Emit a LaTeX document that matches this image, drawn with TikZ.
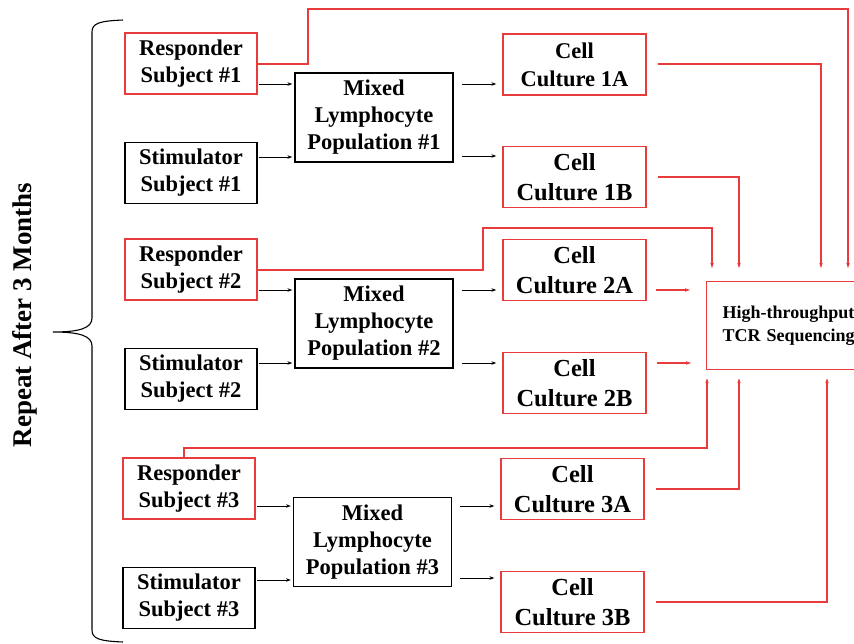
\documentclass[tikz,border=0pt]{standalone}
\usepackage{fontspec}
\setmainfont{Liberation Serif}
\usetikzlibrary{arrows.meta,calc}
\definecolor{lred}{RGB}{232,60,60}
\begin{document}
\begin{tikzpicture}[x=1pt,y=-1pt,
 box/.style={draw=black,line width=1.3pt, align=center, inner sep=0pt, font=\bfseries\fontsize{22.5}{27}\selectfont},
 rbox/.style={box, draw=lred},
 subj/.style={minimum width=132pt, minimum height=61pt},
 mix/.style={box, minimum width=158pt, minimum height=89pt},
 cult/.style={rbox, minimum width=143pt, minimum height=61pt, font=\bfseries\fontsize{24.5}{30}\selectfont},
 arr/.style={line width=0.9pt, -{Stealth[length=5pt,width=3.5pt]}},
 rarr/.style={draw=lred, line width=1.3pt, -{Stealth[length=5pt,width=3.5pt]}},
 sa/.style={shorten <=1pt, shorten >=2pt},
 sb/.style={shorten <=8pt, shorten >=6pt}]
\useasboundingbox (0,0) rectangle (854,643);
\clip (0,0) rectangle (854,643);

% brace and label
\draw[line width=1.1pt] (123,20) .. controls (100,21) and (92,23) .. (92,32) -- (92,318)
  .. controls (92,328) and (80,332) .. (53,332)
  .. controls (80,332) and (92,336) .. (92,346) -- (92,630)
  .. controls (92,639) and (100,641) .. (123,642);
\node[rotate=90, font=\bfseries\fontsize{27}{32}\selectfont] (rep) at (25,315) {Repeat After 3 Months};

% group 1
\node[rbox, subj] (r1) at (191,63.5) {Responder\\Subject \#1};
\node[box, subj] (s1) at (191,173) {Stimulator\\Subject \#1};
\node[mix] (m1) at (374,117.5) {Mixed\\Lymphocyte\\Population \#1};
\node[cult, font=\bfseries\fontsize{22.5}{28}\selectfont] (c1a) at (574.5,64.5) {Cell\\Culture 1A};
\node[cult] (c1b) at (574.5,177) {Cell\\Culture 1B};

% group 2
\node[rbox, subj] (r2) at (191,269.5) {Responder\\Subject \#2};
\node[box, subj] (s2) at (191,379) {Stimulator\\Subject \#2};
\node[mix] (m2) at (374,323.5) {Mixed\\Lymphocyte\\Population \#2};
\node[cult] (c2a) at (574.5,270) {Cell\\Culture 2A};
\node[cult] (c2b) at (574.5,383) {Cell\\Culture 2B};

% group 3
\node[rbox, subj] (r3) at (189,488.5) {Responder\\Subject \#3};
\node[box, subj] (s3) at (189,598) {Stimulator\\Subject \#3};
\node[mix] (m3) at (372.5,542) {Mixed\\Lymphocyte\\Population \#3};
\node[cult] (c3a) at (572.5,489) {Cell\\Culture 3A};
\node[cult] (c3b) at (572.5,602) {Cell\\Culture 3B};

% sequencing
\node[rbox, anchor=north west, minimum height=88pt, text width=150pt, align=left,
      inner xsep=16pt, font=\bfseries\fontsize{18}{23}\selectfont] (hts) at (706,281)
      {High-throughput\\TCR Sequencing};

% black arrows
\draw[arr, sa] (r1.east |- 0,84) -- (m1.west |- 0,84);
\draw[arr, sa] (s1.east |- 0,157) -- (m1.west |- 0,157);
\draw[arr, sb] (m1.east |- 0,84) -- (c1a.west |- 0,84);
\draw[arr, sb] (m1.east |- 0,156) -- (c1b.west |- 0,156);
\draw[arr, sa] (r2.east |- 0,290) -- (m2.west |- 0,290);
\draw[arr, sa] (s2.east |- 0,363) -- (m2.west |- 0,363);
\draw[arr, sb] (m2.east |- 0,290) -- (c2a.west |- 0,290);
\draw[arr, sb] (m2.east |- 0,363) -- (c2b.west |- 0,363);
\draw[arr, sa] (r3.east |- 0,506) -- (m3.west |- 0,506);
\draw[arr, sa] (s3.east |- 0,580) -- (m3.west |- 0,580);
\draw[arr, sb] (m3.east |- 0,506) -- (c3a.west |- 0,506);
\draw[arr, sb] (m3.east |- 0,578) -- (c3b.west |- 0,578);

% red connectors
\draw[rarr, shorten >=13pt] (r1.east |- 0,64) -| (308,9) -| (hts.north -| 848,0);
\draw[rarr, shorten <=11pt, shorten >=13pt] (c1a.east |- 0,64) -| (hts.north -| 821,0);
\draw[rarr, shorten <=11pt, shorten >=13pt] (c1b.east |- 0,177) -| (hts.north -| 739,0);
\draw[rarr, shorten >=13pt] (r2.east |- 0,270) -| (483,228) -| (hts.north -| 712,0);
\draw[rarr, shorten <=9pt, shorten >=16pt] (c2a.east |- 0,290) -- (hts.west |- 0,290);
\draw[rarr, shorten <=10pt, shorten >=15pt] (c2b.east |- 0,363) -- (hts.west |- 0,363);
\draw[rarr, shorten >=8pt] (r3.north -| 184,0) -- (184,448) -| (hts.south -| 707,0);
\draw[rarr, shorten <=11pt, shorten >=8pt] (c3a.east |- 0,489) -| (hts.south -| 739,0);
\draw[rarr, shorten <=11pt, shorten >=8pt] (c3b.east |- 0,602) -| (hts.south -| 827,0);
\end{tikzpicture}
\end{document}
